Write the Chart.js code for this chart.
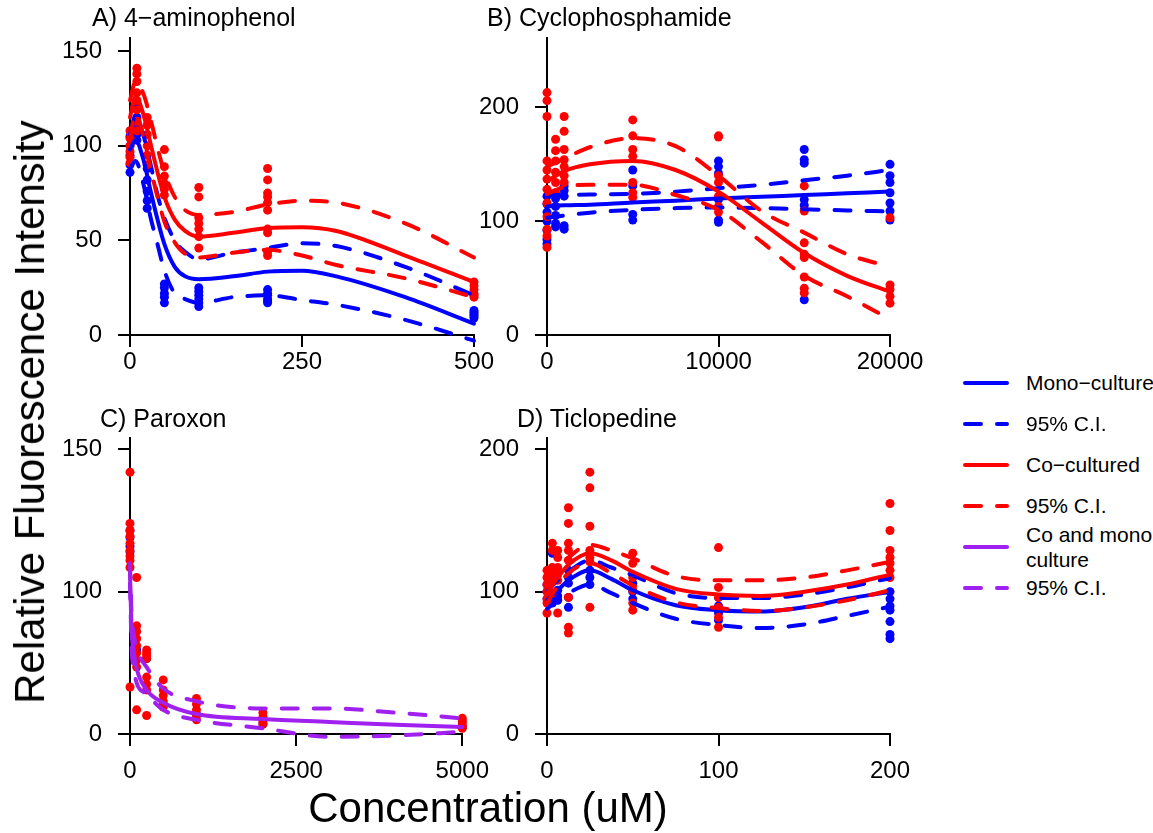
<!DOCTYPE html>
<html>
<head>
<meta charset="utf-8">
<script src="https://cdn.jsdelivr.net/npm/chart.js@4.4.1/dist/chart.umd.min.js"></script>
<style>
  body { margin: 0; background: #fff; font-family: 'Liberation Sans', Arial, sans-serif; }
  #wrap { position: relative; width: 1153px; height: 833px; overflow: hidden; background: #fff; }
  #wrap canvas { position: absolute; }
  .ptitle { position: absolute; font-size: 25px; line-height: 30px; white-space: nowrap; }
  #yTitle { position: absolute; left: 30px; top: 412px; font-size: 42px; white-space: nowrap;
            transform: translate(-50%, -50%) rotate(-90deg); }
  #xTitle { position: absolute; left: 488px; top: 808px; font-size: 42px; white-space: nowrap;
            transform: translate(-50%, -50%); }
  #legend { position: absolute; left: 963px; top: 362px; font-size: 21px; }
  .row { display: flex; align-items: center; height: 41px; }
  .row span { margin-left: 17px; line-height: 25px; white-space: pre-line; }
</style>
</head>
<body>
<div id="wrap">
  <canvas id="panelA" width="460" height="390" style="left:40px;top:0px"></canvas>
  <canvas id="panelB" width="470" height="390" style="left:470px;top:0px"></canvas>
  <canvas id="panelC" width="460" height="389" style="left:40px;top:400px"></canvas>
  <canvas id="panelD" width="470" height="389" style="left:470px;top:400px"></canvas>
  <div class="ptitle" style="left:92px;top:2px">A) 4&minus;aminophenol</div>
  <div class="ptitle" style="left:487px;top:2px">B) Cyclophosphamide</div>
  <div class="ptitle" style="left:100px;top:403px">C) Paroxon</div>
  <div class="ptitle" style="left:517px;top:403px">D) Ticlopedine</div>
  <div id="yTitle">Relative Fluorescence Intensity</div>
  <div id="xTitle">Concentration (uM)</div>
  <div id="legend"></div>
</div>
<script>
// ---- A) 4-aminophenol ----
const aConc = [0, 10, 25, 50, 100, 200, 500];
const aMono = [
  [105, 100, 95, 90, 86],
  [120, 115, 110, 106, 103],
  [88, 82, 76, 71, 67],
  [27, 25, 22, 20, 17],
  [25, 23, 21, 19, 17, 15],
  [24, 22, 21, 19, 18, 17],
  [13, 12, 11, 10, 9]
];
const aCo = [
  [108, 104, 100, 97, 94, 91],
  [141, 138, 134, 128, 124, 119, 113, 108],
  [115, 111, 106, 100, 95, 90],
  [98, 89, 84, 80, 77, 74],
  [78, 73, 62, 59, 56, 52, 46],
  [88, 82, 75, 73, 70, 66, 56, 54, 44, 42],
  [28, 26, 24, 22, 21, 20]
];
const aFitX    = [0, 8, 20, 30, 40, 50, 65, 80, 100, 150, 200, 250, 300, 400, 500];
const aMonoFit = [98, 103, 92, 76, 61, 48, 36, 31, 29.5, 31, 33.5, 34, 31, 20, 6];
const aMonoHi  = [106, 116, 105, 90, 74, 62, 50, 44, 40, 43.5, 46, 48.5, 47, 36, 21];
const aMonoLo  = [88, 92, 79, 62, 48, 34, 22, 19, 17, 20, 21, 18.5, 16, 8, -3];
const aCoFit   = [115, 126, 116, 101, 86, 73, 61, 55, 52, 54, 56.5, 57, 55, 42, 28];
const aCoHi    = [124, 134, 127, 114, 99, 86, 73, 66, 63.5, 65, 69, 71, 70, 59, 41];
const aCoLo    = [104, 117, 104, 88, 73, 60, 49, 43, 41, 43.5, 45, 42, 37, 30, 20];

// ---- B) Cyclophosphamide ----
const bConc = [0, 500, 1000, 5000, 10000, 15000, 20000];
const bMono = [
  [122, 115, 108, 100, 92, 84, 80],
  [120, 113, 105, 98, 95],
  [131, 127, 122, 96, 93],
  [145, 131, 106, 101],
  [153, 148, 142, 119, 101, 99],
  [163, 154, 151, 119, 114, 110, 31],
  [150, 140, 134, 125, 116, 109, 101]
];
const bCo = [
  [213, 206, 192, 153, 145, 137, 128, 116, 104, 93, 87, 77],
  [172, 162, 153, 143, 134, 125],
  [192, 179, 163, 154, 148, 140, 134],
  [189, 175, 163, 157, 134, 125, 121],
  [175, 174, 140, 134, 122, 113, 108],
  [131, 109, 81, 71, 68, 51, 41, 37],
  [103, 44, 40, 34, 28]
];
const bFitX    = [0, 1000, 2500, 5000, 7500, 10000, 12500, 15000, 17500, 20000];
const bMonoFit = [113, 114, 114.5, 116.5, 118, 120, 121.5, 123, 124.5, 126];
const bMonoHi  = [123, 123, 123.5, 124, 126, 129, 132, 136, 140, 145];
const bMonoLo  = [103, 105, 107.5, 110, 111.5, 112, 111.5, 110.5, 109.5, 108.5];
const bCoFit   = [135, 144, 150, 153, 145, 126, 99, 72, 52, 38];
const bCoHi    = [148, 155, 165, 173, 166, 140, 109, 90, 71, 60];
const bCoLo    = [124, 130, 132, 132, 123, 110, 82, 52, 34, 14];

// ---- C) Paroxon ----
const cConc = [0, 100, 250, 500, 1000, 2000, 5000];
const cMono = [[143, 138, 132, 128], [59], [53], [20], [14], [7], [5]];
const cCo = [
  [184, 148, 143, 139, 134, 129, 125, 122, 117, 33],
  [110, 76, 72, 67, 62, 57, 52, 47, 17],
  [59, 57, 55, 53, 40, 35, 31, 13],
  [38, 31, 27, 23, 19],
  [25, 21, 17, 13, 10],
  [15, 12, 9, 7],
  [11, 9, 7, 5, 4]
];
const cFitX = [0, 25, 50, 100, 250, 500, 1000, 2000, 3000, 4000, 5000];
const cFit  = [113, 72, 60, 46, 31, 22, 14, 10.5, 8.5, 6.5, 5];
const cHi   = [120, 82, 72, 60, 47, 32, 23, 18, 18, 15, 11];
const cLo   = [106, 60, 48, 36, 28, 17, 10, 4, -2, -1, 1.5];

// ---- D) Ticlopedine ----
const dConc = [0, 3.125, 6.25, 12.5, 25, 50, 100, 200];
const dMono = [
  [105, 100, 95],
  [127, 96, 92],
  [101, 97, 94],
  [115, 110, 106, 96, 89],
  [115, 110, 105],
  [106, 100, 95],
  [96, 90, 85, 80],
  [100, 95, 90, 87, 79, 70, 67]
];
const dCo = [
  [115, 110, 105, 100, 95, 92, 85],
  [134, 129, 117, 112, 108, 99],
  [129, 124, 117, 112, 108, 85],
  [159, 148, 134, 129, 122, 96, 75, 71],
  [184, 173, 146, 129, 124, 121, 89],
  [127, 120, 110, 101, 92, 87],
  [131, 103, 96, 89, 82, 75],
  [162, 143, 129, 124, 120, 115, 110]
];
const dFitX    = [0, 6.25, 12.5, 25, 37.5, 50, 75, 100, 125, 150, 175, 200, 208];
const dMonoFit = [94, 101, 108, 115, 109, 101, 90.5, 87, 86, 89, 95, 100, 102];
const dMonoHi  = [100, 108, 114, 122, 117, 111.5, 99, 95.5, 95.5, 98, 103, 109.5, 111];
const dMonoLo  = [88, 94, 99, 105, 99, 92, 81, 76.5, 74.5, 77, 83, 89.5, null];
const dCoFit   = [99, 110, 119, 127, 122, 114, 102, 98, 97, 100, 105, 112, null];
const dCoHi    = [104, 116, 124, 133, 129, 123.5, 111, 108, 108, 110, 115, 121, null];
const dCoLo    = [92, 104, 113, 120, 113, 104.5, 92.5, 88.5, 86.5, 89, 94, 101, null];

// tick values and labels
const aXTicks = [0, 250, 500],      aYTicks = [0, 50, 100, 150];
const bXTicks = [0, 10000, 20000],  bYTicks = [0, 100, 200];
const cXTicks = [0, 2500, 5000],    cYTicks = [0, 100, 200];
const cYLabels = ['0', '100', '150'];
const dXTicks = [0, 100, 200],      dYTicks = [0, 100, 200];

const legendLabels = ['Mono\u2212culture', '95% C.I.', 'Co\u2212cultured', '95% C.I.', 'Co and mono\nculture', '95% C.I.'];

const BLUE = '#0000ff', RED = '#ff0000', PURPLE = '#a020f0';
const legendColors = [BLUE, BLUE, RED, RED, PURPLE, PURPLE];
const legendDashed = [false, true, false, true, false, true];

Chart.defaults.font.family = "'Liberation Sans', Arial, sans-serif";
Chart.defaults.color = '#000';

function pointsFrom(conc, groups) {
  const pts = [];
  groups.forEach((vals, i) => vals.forEach(v => pts.push({ x: conc[i], y: v })));
  return pts;
}
function curveFrom(xs, ys) {
  return xs.map((x, i) => ({ x, y: ys[i] })).filter(p => p.y !== null);
}
function dots(data, color, order) {
  return { data, backgroundColor: color, borderWidth: 0, pointRadius: 4.5, pointHoverRadius: 4.5, order, clip: false };
}
function curve(data, color, dashed, order) {
  return {
    data, showLine: true, borderColor: color, borderWidth: 4,
    borderDash: dashed ? [16, 16] : [], borderCapStyle: 'round',
    pointRadius: 0, pointHoverRadius: 0, cubicInterpolationMode: 'monotone', order, clip: false
  };
}

function axis(max, tickVals, labels, isX, pad, size) {
  return {
    type: 'linear', min: 0, max,
    afterBuildTicks: s => { s.ticks = tickVals.map(v => ({ value: v })); },
    afterFit: s => { if (isX) s.height = size; else s.width = size; },
    ticks: {
      autoSkip: false, maxRotation: 0, color: '#000', font: { size: 24 }, padding: pad,
      callback: (v, i) => labels ? labels[i] : String(tickVals[i])
    },
    grid: { display: true, drawOnChartArea: false, drawTicks: true, tickLength: 12, tickWidth: 2, tickColor: '#000', color: '#000', lineWidth: 2 },
    border: { display: true, color: '#000', width: 2 }
  };
}

function drawPanel(id, p) {
  new Chart(document.getElementById(id), {
    type: 'scatter',
    data: { datasets: p.datasets },
    options: {
      responsive: false, animation: false, events: [],
      layout: { padding: { left: 0, right: p.padRight, top: 38, bottom: 0 } },
      plugins: { legend: { display: false }, tooltip: { enabled: false } },
      scales: {
        x: axis(p.xMax, p.xTicks, null, true, p.xPad, 55),
        y: axis(p.yMax, p.yTicks, p.yLabels, false, 16, p.yWidth)
      }
    }
  });
}

function twoSeries(fitX, monoFit, monoHi, monoLo, coFit, coHi, coLo, conc, mono, co) {
  return [
    curve(curveFrom(fitX, coFit), RED, false, 1),
    curve(curveFrom(fitX, coHi), RED, true, 1),
    curve(curveFrom(fitX, coLo), RED, true, 1),
    curve(curveFrom(fitX, monoFit), BLUE, false, 2),
    curve(curveFrom(fitX, monoHi), BLUE, true, 2),
    curve(curveFrom(fitX, monoLo), BLUE, true, 2),
    dots(pointsFrom(conc, co), RED, 3),
    dots(pointsFrom(conc, mono), BLUE, 4)
  ];
}

drawPanel('panelA', {
  padRight: 26, yWidth: 90, xPad: 1,
  xMax: 500, xTicks: aXTicks, yMax: 157, yTicks: aYTicks,
  datasets: twoSeries(aFitX, aMonoFit, aMonoHi, aMonoLo, aCoFit, aCoHi, aCoLo, aConc, aMono, aCo)
});
drawPanel('panelB', {
  padRight: 50, yWidth: 77, xPad: 1,
  xMax: 20000, xTicks: bXTicks, yMax: 261, yTicks: bYTicks,
  datasets: twoSeries(bFitX, bMonoFit, bMonoHi, bMonoLo, bCoFit, bCoHi, bCoLo, bConc, bMono, bCo)
});
drawPanel('panelC', {
  padRight: 26, yWidth: 90, xPad: 11,
  xMax: 5000, xTicks: cXTicks, yMax: 208, yTicks: cYTicks, yLabels: cYLabels,
  datasets: [
    curve(curveFrom(cFitX, cFit), PURPLE, false, 1),
    curve(curveFrom(cFitX, cHi), PURPLE, true, 1),
    curve(curveFrom(cFitX, cLo), PURPLE, true, 1),
    dots(pointsFrom(cConc, cCo), RED, 3),
    dots(pointsFrom(cConc, cMono), BLUE, 4)
  ]
});
drawPanel('panelD', {
  padRight: 50, yWidth: 77, xPad: 11,
  xMax: 200, xTicks: dXTicks, yMax: 208, yTicks: dYTicks,
  datasets: twoSeries(dFitX, dMonoFit, dMonoHi, dMonoLo, dCoFit, dCoHi, dCoLo, dConc, dMono, dCo)
});

// legend
const legend = document.getElementById('legend');
legendLabels.forEach((label, i) => {
  const row = document.createElement('div');
  row.className = 'row';
  const dash = legendDashed[i] ? ' stroke-dasharray="16 16"' : '';
  row.innerHTML = '<svg width="46" height="8"><line x1="2" y1="4" x2="44" y2="4" stroke="' + legendColors[i] +
    '" stroke-width="4" stroke-linecap="round"' + dash + '/></svg><span></span>';
  row.querySelector('span').textContent = label;
  legend.appendChild(row);
});
</script>
</body>
</html>
